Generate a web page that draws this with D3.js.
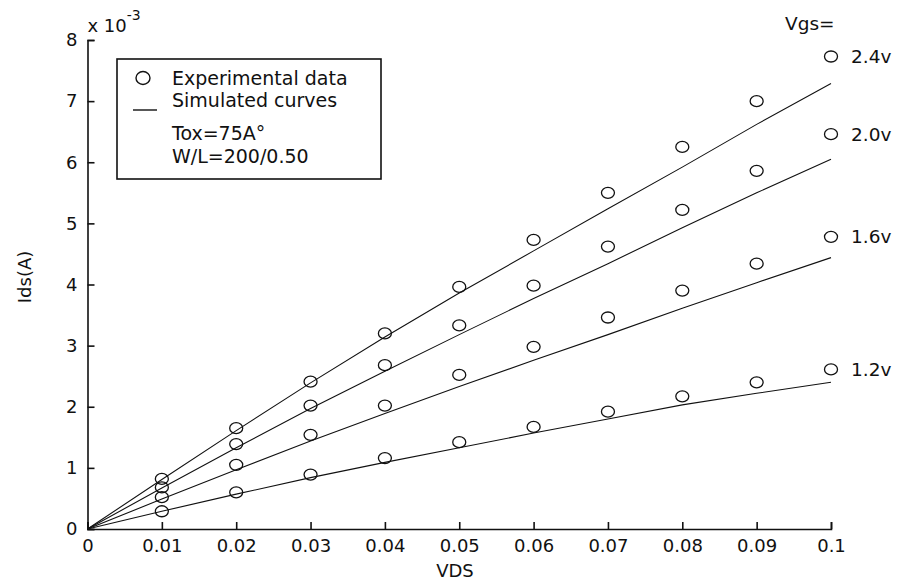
<!DOCTYPE html>
<html><head><meta charset="utf-8">
<script src="https://cdn.jsdelivr.net/npm/d3@7"></script>
<style>
body{margin:0;background:#fff;}
text{font-family:"DejaVu Sans",sans-serif;fill:#111;}
</style></head>
<body>
<svg id="chart" width="899" height="585"></svg>
<script>
// ---- data ----
const vdsPoints = [0.01,0.02,0.03,0.04,0.05,0.06,0.07,0.08,0.09,0.1];
const vdsCurve  = [0,0.01,0.02,0.03,0.04,0.05,0.06,0.07,0.08,0.09,0.1];
const vgsLabels = ["2.4v","2.0v","1.6v","1.2v"];
const exp24 = [0.82,1.65,2.41,3.20,3.96,4.73,5.50,6.25,7.00,7.73];
const exp20 = [0.68,1.39,2.02,2.68,3.33,3.98,4.62,5.22,5.86,6.46];
const exp16 = [0.52,1.05,1.54,2.02,2.52,2.98,3.46,3.90,4.34,4.78];
const exp12 = [0.29,0.60,0.89,1.16,1.42,1.67,1.92,2.17,2.40,2.61];
const sim24 = [0,0.81,1.61,2.39,3.14,3.86,4.55,5.24,5.92,6.62,7.29];
const sim20 = [0,0.67,1.33,1.97,2.58,3.18,3.77,4.34,4.93,5.50,6.05];
const sim16 = [0,0.49,0.97,1.44,1.89,2.33,2.76,3.18,3.61,4.03,4.44];
const sim12 = [0,0.29,0.57,0.84,1.09,1.33,1.57,1.80,2.03,2.22,2.40];
const xTicks = [0,0.01,0.02,0.03,0.04,0.05,0.06,0.07,0.08,0.09,0.1];
const xTickLabels = ["0","0.01","0.02","0.03","0.04","0.05","0.06","0.07","0.08","0.09","0.1"];
const yTicks = [0,1,2,3,4,5,6,7,8];
const legendTexts = ["Experimental data","Simulated curves","Tox=75A°","W/L=200/0.50"];

const expSeries = [exp24,exp20,exp16,exp12];
const simSeries = [sim24,sim20,sim16,sim12];

// ---- layout ----
const svg = d3.select("#chart");
const x = d3.scaleLinear().domain([0,0.1]).range([87.5,831]);
const y = d3.scaleLinear().domain([0,8]).range([529,40]);
const ink = "#111";

// axes
const xAxis = d3.axisBottom(x).tickValues(xTicks)
  .tickFormat((d,i)=>xTickLabels[i]).tickSize(-7).tickSizeOuter(-7).tickPadding(10);
const yAxis = d3.axisLeft(y).tickValues(yTicks)
  .tickFormat(d3.format("d")).tickSize(-7).tickSizeOuter(-7).tickPadding(10);

const gx = svg.append("g").attr("transform",`translate(0,${y(0)})`).call(xAxis);
const gy = svg.append("g").attr("transform",`translate(${x(0)},0)`).call(yAxis);
[gx,gy].forEach(g=>{
  g.selectAll("path,line").attr("stroke",ink).attr("stroke-width",1.6);
  g.selectAll("text").attr("font-family","DejaVu Sans").attr("font-size",18).attr("fill",ink);
});

// multiplier
const mult = svg.append("text").attr("x",x(0)).attr("y",32).attr("font-size",18);
mult.append("tspan").text("x 10");
mult.append("tspan").attr("dy",-12).attr("font-size",14).text("-3");

// axis labels
svg.append("text").attr("x",455).attr("y",577).attr("text-anchor","middle")
  .attr("font-size",18).text("VDS");
svg.append("text").attr("transform","translate(31,277) rotate(-90)")
  .attr("text-anchor","middle").attr("font-size",18).text("Ids(A)");

// simulated curves
const line = d3.line().x((d,i)=>x(vdsCurve[i])).y(d=>y(d));
svg.append("g").selectAll("path").data(simSeries).join("path")
  .attr("d",line).attr("fill","none").attr("stroke",ink).attr("stroke-width",1.1);

// experimental points
const pts = svg.append("g");
expSeries.forEach(s=>{
  pts.selectAll(null).data(s).join("ellipse")
    .attr("cx",(d,i)=>x(vdsPoints[i])).attr("cy",d=>y(d))
    .attr("rx",6.5).attr("ry",5.5)
    .attr("fill","none").attr("stroke",ink).attr("stroke-width",1.3);
});

// series labels
svg.append("text").attr("x",785).attr("y",30).attr("font-size",18.5).text("Vgs=");
svg.append("g").selectAll("text").data(vgsLabels).join("text")
  .attr("x",x(0.1)+20).attr("y",(d,i)=>y(expSeries[i][expSeries[i].length-1]))
  .attr("dy","0.35em").attr("font-size",18.5).text(d=>d);

// legend
const lg = svg.append("g");
lg.append("rect").attr("x",117).attr("y",59).attr("width",264).attr("height",120)
  .attr("fill","#fff").attr("stroke",ink).attr("stroke-width",1.6);
lg.append("ellipse").attr("cx",143).attr("cy",78).attr("rx",7).attr("ry",6.5)
  .attr("fill","none").attr("stroke",ink).attr("stroke-width",1.4);
lg.append("line").attr("x1",133).attr("x2",157).attr("y1",110).attr("y2",110)
  .attr("stroke",ink).attr("stroke-width",1.4);
const ly = [85,107,140,163];
lg.selectAll("text.l").data(legendTexts).join("text").attr("class","l")
  .attr("x",172).attr("y",(d,i)=>ly[i]).attr("font-size",19).text(d=>d);
</script>
</body></html>
